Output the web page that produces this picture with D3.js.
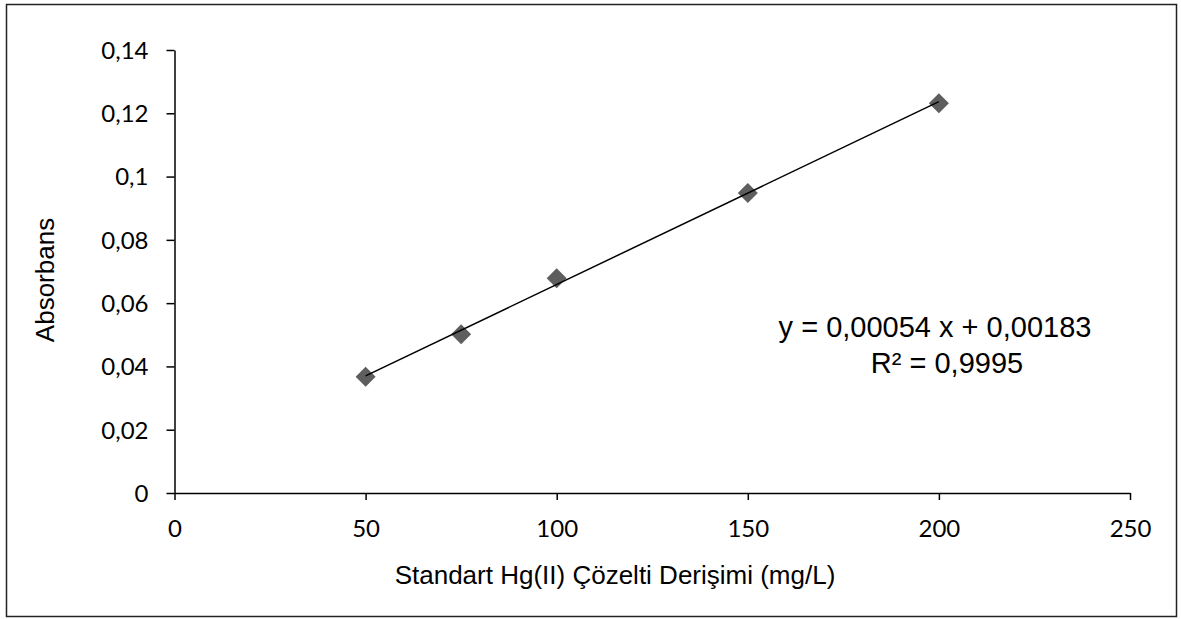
<!DOCTYPE html>
<html>
<head>
<meta charset="utf-8">
<script src="https://cdn.jsdelivr.net/npm/d3@7"></script>
<style>
  body { margin: 0; background: #fff; }
</style>
</head>
<body>
<div id="chart"></div>
<script>
// data
var concentrations = [50, 75, 100, 150, 200];
var absorbances = [0.0367, 0.0502, 0.0679, 0.0948, 0.1232];
var xTicks = [0, 50, 100, 150, 200, 250];
var yTicks = [0, 0.02, 0.04, 0.06, 0.08, 0.1, 0.12, 0.14];
var yTickLabels = ['0', '0,02', '0,04', '0,06', '0,08', '0,1', '0,12', '0,14'];
var equationLines = ['y = 0,00054 x + 0,00183', 'R² = 0,9995'];

var fullWidth = 1181;
var fullHeight = 619;
var tickFont = 'Lato, "Open Sans", sans-serif';
var mainFont = '"Liberation Sans", Arial, sans-serif';
var markerColor = '#5e5e5e';

window.onload = function() {
    render();
};

function render() {
    var svg = d3.select('#chart').append('svg')
        .attr('width', fullWidth)
        .attr('height', fullHeight);

    // outer frame
    svg.append('rect')
        .attr('x', 6.5)
        .attr('y', 4.5)
        .attr('width', 1170)
        .attr('height', 612)
        .attr('fill', 'none')
        .attr('stroke', '#222')
        .attr('stroke-width', 1.5);

    var x = d3.scaleLinear().domain([0, 250]).range([174.5, 1130]);
    var y = d3.scaleLinear().domain([0, 0.14]).range([493, 50]);

    var xAxis = svg.append('g')
        .attr('transform', 'translate(0,' + y(0) + ')')
        .call(d3.axisBottom(x).tickValues(xTicks).tickSize(7).tickSizeOuter(0)
            .tickFormat(function(d) { return d; }));

    var yAxis = svg.append('g')
        .attr('transform', 'translate(' + x(0) + ',0)')
        .call(d3.axisLeft(y).tickValues(yTicks).tickSize(8).tickSizeOuter(0)
            .tickFormat(function(d, i) { return yTickLabels[i]; }));

    [xAxis, yAxis].forEach(function(ax) {
        ax.select('.domain').attr('stroke', '#000').attr('stroke-width', 1.5);
        ax.selectAll('.tick line').attr('stroke', '#000').attr('stroke-width', 1.5);
        ax.selectAll('.tick text')
            .attr('fill', '#000')
            .style('font-family', tickFont)
            .style('font-size', '24px');
    });
    xAxis.selectAll('.tick text').attr('dy', null).attr('y', 44);
    yAxis.selectAll('.tick text').attr('x', -26).attr('dy', '0.35em');

    // least squares trendline through the points
    var mx = d3.mean(concentrations);
    var my = d3.mean(absorbances);
    var sxy = d3.sum(concentrations, function(c, i) { return (c - mx) * (absorbances[i] - my); });
    var sxx = d3.sum(concentrations, function(c) { return (c - mx) * (c - mx); });
    var slope = sxy / sxx;
    var intercept = my - slope * mx;
    var xMin = d3.min(concentrations);
    var xMax = d3.max(concentrations);

    var line = d3.line()
        .x(function(d) { return x(d); })
        .y(function(d) { return y(slope * d + intercept); });

    // markers
    var symbol = d3.symbol().type(d3.symbolSquare).size(200);
    svg.selectAll('path.marker')
        .data(concentrations)
        .enter().append('path')
        .attr('class', 'marker')
        .attr('d', symbol)
        .attr('transform', function(d, i) {
            return 'translate(' + x(d) + ',' + y(absorbances[i]) + ') rotate(45)';
        })
        .attr('fill', markerColor);

    svg.append('path')
        .attr('d', line([xMin, xMax]))
        .attr('fill', 'none')
        .attr('stroke', '#000')
        .attr('stroke-width', 1.5);

    // equation
    var eqX = [935, 947];
    svg.selectAll('text.eq')
        .data(equationLines)
        .enter().append('text')
        .attr('class', 'eq')
        .attr('x', function(d, i) { return eqX[i]; })
        .attr('y', function(d, i) { return 337 + i * 36; })
        .attr('text-anchor', 'middle')
        .style('font-family', mainFont)
        .style('font-size', '29px')
        .style('fill', '#000')
        .text(function(d) { return d; });

    // axis titles
    svg.append('text')
        .attr('x', 615)
        .attr('y', 584)
        .attr('text-anchor', 'middle')
        .style('font-family', mainFont)
        .style('font-size', '26px')
        .style('fill', '#000')
        .text('Standart Hg(II) Çözelti Derişimi (mg/L)');

    svg.append('text')
        .attr('transform', 'translate(54,280) rotate(-90)')
        .attr('text-anchor', 'middle')
        .style('font-family', mainFont)
        .style('font-size', '26px')
        .style('fill', '#000')
        .text('Absorbans');
}
</script>
</body>
</html>
